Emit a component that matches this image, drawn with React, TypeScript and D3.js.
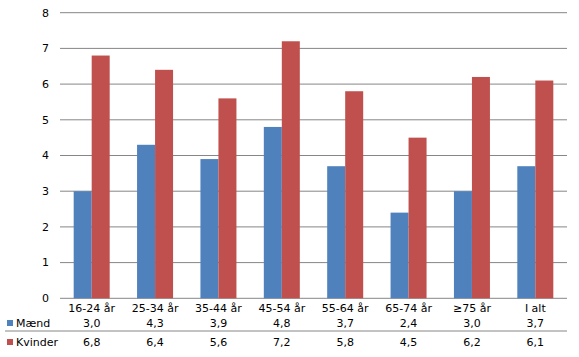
import React from "react";
import * as d3 from "d3";

const categories = ["16-24 år", "25-34 år", "35-44 år", "45-54 år", "55-64 år", "65-74 år", "≥75 år", "I alt"];
const maend = [3.0, 4.3, 3.9, 4.8, 3.7, 2.4, 3.0, 3.7];
const kvinder = [6.8, 6.4, 5.6, 7.2, 5.8, 4.5, 6.2, 6.1];
const seriesNames = ["Mænd", "Kvinder"];
const yTicks = [0, 1, 2, 3, 4, 5, 6, 7, 8];

const W = 579, H = 357;
const left = 60, right = 567, top = 12.7, bottom = 298.3;
const colors = ["#4F81BD", "#C0504D"];
const font = "'DejaVu Sans', Verdana, sans-serif";

export default function App() {
  const x = d3.scaleBand<string>().domain(categories).range([left, right]).paddingInner(0).paddingOuter(0);
  const y = d3.scaleLinear().domain([0, 8]).range([bottom, top]);
  const barW = 18;
  const series = [maend, kvinder];
  const fmt = (v: number) => v.toFixed(1).replace(".", ",");
  const rowY = [323, 342];
  return (
    <svg width={W} height={H} style={{ position: "absolute", left: 0, top: 0, background: "#fff" }}>
      {yTicks.map((t) => (
        <g key={t}>
          <line x1={left} x2={right} y1={y(t)} y2={y(t)} stroke="#868686" strokeWidth={1} />
          <text x={49} y={y(t)} dy="0.35em" textAnchor="end" fontFamily={font} fontSize={11} fill="#000">{t}</text>
        </g>
      ))}
      {categories.map((c, i) => {
        const cx = (x(c) as number) + x.bandwidth() / 2;
        return (
          <g key={c}>
            {series.map((s, si) => (
              <rect key={si} x={cx - barW + si * barW} y={y(s[i])} width={barW} height={y(0) - y(s[i])} fill={colors[si]} />
            ))}
            <text x={cx} y={308} dy="0.35em" textAnchor="middle" fontFamily={font} fontSize={11} fill="#000">{c}</text>
            {series.map((s, si) => (
              <text key={si} x={cx} y={rowY[si]} dy="0.35em" textAnchor="middle" fontFamily={font} fontSize={11} fill="#000">{fmt(s[i])}</text>
            ))}
          </g>
        );
      })}
      <line x1={5} x2={right} y1={331} y2={331} stroke="#868686" strokeWidth={1} />
      {seriesNames.map((n, si) => (
        <g key={n}>
          <rect x={7} y={rowY[si] - 3} width={6} height={6} fill={colors[si]} />
          <text x={16} y={rowY[si]} dy="0.35em" fontFamily={font} fontSize={11} fill="#000">{n}</text>
        </g>
      ))}
    </svg>
  );
}
